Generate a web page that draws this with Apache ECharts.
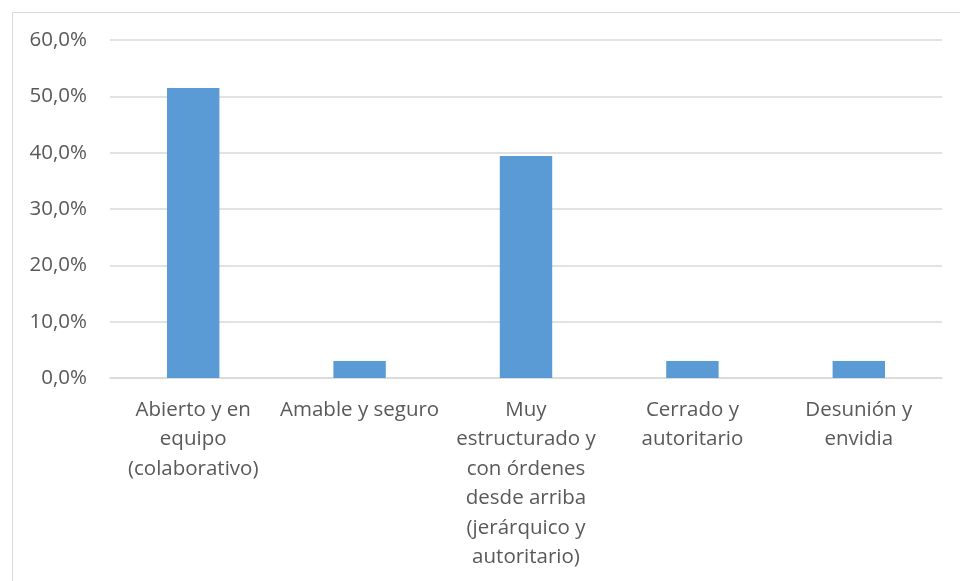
<!DOCTYPE html>
<html>
<head>
<meta charset="utf-8">
<style>
  html, body { margin: 0; padding: 0; background: #ffffff; }
  #chart { width: 960px; height: 581px; }
</style>
<script src="https://cdn.jsdelivr.net/npm/echarts@6/dist/echarts.min.js"></script>
</head>
<body>
<div id="chart"></div>
<script>
// Climate categories (line breaks give the wrapped axis labels)
const categories = [
  'Abierto y en\nequipo\n(colaborativo)',
  'Amable y seguro',
  'Muy\nestructurado y\ncon órdenes\ndesde arriba\n(jerárquico y\nautoritario)',
  'Cerrado y\nautoritario',
  'Desunión y\nenvidia'
];
// Share of answers, in percent
const percentages = [51.5, 3.0, 39.4, 3.0, 3.0];
// Value axis range and step, in percent
const axisMin = 0;
const axisMax = 60;
const axisStep = 10;

const textColor = '#595959';
const lineColor = '#D9D9D9';
const fontFamily = '"Open Sans", "Noto Sans", sans-serif';

const chart = echarts.init(document.getElementById('chart'), null, { renderer: 'canvas' });

chart.setOption({
  backgroundColor: '#ffffff',
  animation: false,
  graphic: [{
    type: 'rect',
    left: 10,
    top: 10,
    shape: { x: 0.5, y: 0.5, width: 1000, height: 1000 },
    style: { fill: 'none', stroke: lineColor, lineWidth: 1 },
    silent: true,
    z: -1
  }],
  grid: { left: 110, right: 18, top: 40, bottom: 203, containLabel: false },
  xAxis: {
    type: 'category',
    data: categories,
    axisTick: { show: false },
    axisLine: { show: true, lineStyle: { color: lineColor, width: 1.5 } },
    axisLabel: {
      interval: 0,
      margin: 17,
      color: textColor,
      fontFamily: fontFamily,
      fontSize: 20.5,
      lineHeight: 29.5,
      align: 'center'
    }
  },
  yAxis: {
    type: 'value',
    min: axisMin,
    max: axisMax,
    interval: axisStep,
    axisLine: { show: false },
    axisTick: { show: false },
    splitLine: { lineStyle: { color: lineColor, width: 1.5 } },
    axisLabel: {
      margin: 23,
      color: textColor,
      fontFamily: fontFamily,
      fontSize: 20.5,
      formatter: v => v.toFixed(1).replace('.', ',') + '%'
    }
  },
  series: [{
    type: 'bar',
    data: percentages,
    barWidth: '31.5%',
    itemStyle: { color: '#5B9BD5' }
  }]
});
</script>
</body>
</html>
